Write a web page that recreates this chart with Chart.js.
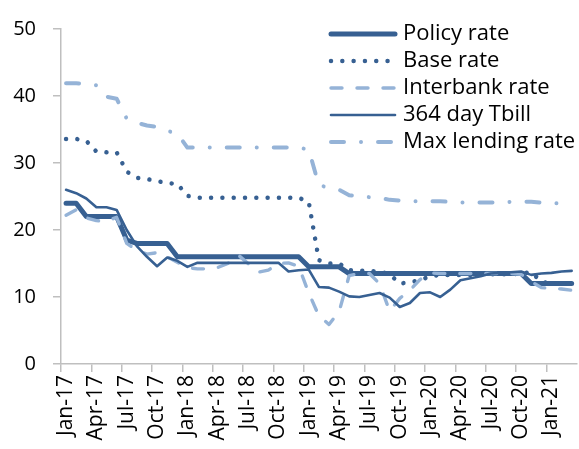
<!DOCTYPE html>
<html>
<head>
<meta charset="utf-8">
<title>Interest rates</title>
<script src="https://cdn.jsdelivr.net/npm/chart.js"></script>
<style>
  html, body { margin: 0; padding: 0; background: #fff; overflow: hidden; }
  #rates_plot_container { position: relative; width: 600px; height: 449px; }
</style>
</head>
<body>
<div id="rates_plot_container"><canvas id="rates_plot"></canvas></div>
<script>
// months Jan-17 .. Mar-21
const MONTHS = [
  'Jan-17', 'Feb-17', 'Mar-17', 'Apr-17', 'May-17', 'Jun-17', 'Jul-17', 'Aug-17', 'Sep-17', 'Oct-17', 'Nov-17', 'Dec-17',
  'Jan-18', 'Feb-18', 'Mar-18', 'Apr-18', 'May-18', 'Jun-18', 'Jul-18', 'Aug-18', 'Sep-18', 'Oct-18', 'Nov-18', 'Dec-18',
  'Jan-19', 'Feb-19', 'Mar-19', 'Apr-19', 'May-19', 'Jun-19', 'Jul-19', 'Aug-19', 'Sep-19', 'Oct-19', 'Nov-19', 'Dec-19',
  'Jan-20', 'Feb-20', 'Mar-20', 'Apr-20', 'May-20', 'Jun-20', 'Jul-20', 'Aug-20', 'Sep-20', 'Oct-20', 'Nov-20', 'Dec-20',
  'Jan-21', 'Feb-21', 'Mar-21'
];

const policyRate = [
  24, 24, 22, 22, 22, 22, 18.5, 18, 18, 18, 18, 16,
  16, 16, 16, 16, 16, 16, 16, 16, 16, 16, 16, 16,
  14.5, 14.5, 14.5, 14.5, 13.5, 13.5, 13.5, 13.5, 13.5, 13.5, 13.5, 13.5,
  13.5, 13.5, 13.5, 13.5, 13.5, 13.5, 13.5, 13.5, 13.5, 13.5, 12, 12,
  12, 12, 12
];

const baseRate = [
  33.6, 33.6, 33.3, 31.7, 31.6, 31.6, 28.7, 27.8, 27.6, 27.3, 27.0, 26.9,
  25.1, 24.8, 24.8, 24.8, 24.8, 24.8, 24.8, 24.8, 24.8, 24.8, 24.8, 24.8,
  24.2, 15.5, 15.0, 15.0, 14.0, 13.9, 13.9, 13.8, 13.4, 12.0, 12.2, 12.5,
  13.1, 13.3, 13.3, 13.3, 13.3, 13.4, 13.4, 13.4, 13.4, 13.5, 13.7, 12.3,
  12.0, 12.0, 12.0
];

const interbankRate = [
  22.2, 23.0, 21.8, 21.4, 21.3, 21.9, 18.0, 17.0, 16.4, 16.6, 16.0, 15.2,
  14.4, 14.2, 14.2, 14.4, 15.0, 16.3, 15.0, 13.7, 14.0, 15.0, 15.1, 14.6,
  10.6, 7.2, 5.9, 7.8, 13.2, 13.5, 13.5, 12.0, 7.9, 9.8, 11.0, 12.6,
  13.6, 13.5, 13.5, 13.5, 13.5, 13.5, 13.5, 13.5, 13.5, 13.4, 12.3, 11.4,
  11.3, 11.2, 11.0
];

const tbill364 = [
  26.0, 25.5, 24.7, 23.4, 23.4, 23.0, 20.0, 17.6, 16.0, 14.6, 15.9, 15.4,
  14.5, 15.1, 15.1, 15.1, 15.1, 15.1, 15.1, 15.1, 15.1, 15.1, 13.8, 14.0,
  14.1, 11.5, 11.4, 10.8, 10.1, 10.0, 10.3, 10.6, 9.9, 8.5, 9.1, 10.6,
  10.7, 10.0, 11.1, 12.5, 12.8, 13.1, 13.5, 13.6, 13.7, 13.8, 13.3, 13.5,
  13.6, 13.8, 13.9
];

const maxLendingRate = [
  41.9, 41.9, 41.8, 41.6, 39.9, 39.6, 36.6, 36.0, 35.6, 35.4, 34.8, 34.4,
  32.3, 32.3, 32.3, 32.3, 32.3, 32.3, 32.3, 32.3, 32.3, 32.3, 32.3, 32.3,
  32.0, 26.7, 26.3, 26.0, 25.2, 25.0, 24.9, 24.8, 24.5, 24.4, 24.3, 24.3,
  24.3, 24.3, 24.2, 24.1, 24.1, 24.1, 24.1, 24.1, 24.2, 24.2, 24.2, 24.1,
  24.0, 24.0, 24.0
];

const DARK_BLUE = '#376092';
const LIGHT_BLUE = '#95B3D7';
const AXIS_COLOR = '#BFBFBF';

Chart.defaults.font.family = '"Open Sans", "DejaVu Sans", sans-serif';
Chart.defaults.color = '#000';

// legend drawn inside the plot, top right
const insideLegend = {
  id: 'insideLegend',
  afterDatasetsDraw(chart) {
    const ctx = chart.ctx;
    ctx.save();
    chart.data.datasets.forEach((ds, i) => {
      const y = 34 + i * 27;
      ctx.beginPath();
      ctx.strokeStyle = ds.borderColor;
      ctx.lineWidth = ds.borderWidth;
      ctx.lineCap = 'round';
      ctx.setLineDash(ds.borderDash || []);
      ctx.moveTo(331, y);
      ctx.lineTo(395, y);
      ctx.stroke();
      ctx.setLineDash([]);
      ctx.fillStyle = '#000';
      ctx.font = '22px "Open Sans"';
      ctx.textBaseline = 'middle';
      ctx.textAlign = 'left';
      ctx.fillText(ds.label, 403, y);
    });
    ctx.restore();
  }
};

function line(label, data, color, width, dash, order) {
  return {
    label: label,
    data: data,
    borderColor: color,
    borderWidth: width,
    borderDash: dash,
    borderCapStyle: 'round',
    borderJoinStyle: 'round',
    pointRadius: 0,
    fill: false,
    tension: 0,
    order: order
  };
}

const ctx = document.getElementById('rates_plot');
window.rates_plot = new Chart(ctx, {
  type: 'line',
  data: {
    labels: MONTHS,
    datasets: [
      line('Policy rate', policyRate, DARK_BLUE, 5, [], 5),
      line('Base rate', baseRate, DARK_BLUE, 4.5, [0.01, 11.3], 4),
      line('Interbank rate', interbankRate, LIGHT_BLUE, 3.4, [11, 15], 3),
      line('364 day Tbill', tbill364, DARK_BLUE, 2.6, [], 2),
      line('Max lending rate', maxLendingRate, LIGHT_BLUE, 4, [13, 17, 0.01, 17], 1)
    ]
  },
  options: {
    responsive: true,
    maintainAspectRatio: false,
    animation: false,
    layout: { padding: { left: 0, right: 14, top: 22, bottom: 0 } },
    plugins: {
      legend: { display: false },
      tooltip: { enabled: false },
      title: { display: false }
    },
    scales: {
      x: {
        type: 'category',
        offset: true,
        grid: {
          offset: true,
          drawOnChartArea: false,
          drawTicks: true,
          tickLength: 8,
          lineWidth: 1.5,
          color: (c) => (c.index % 3 === 0 ? AXIS_COLOR : 'rgba(0,0,0,0)')
        },
        border: { color: AXIS_COLOR, width: 1.5 },
        ticks: {
          autoSkip: false,
          minRotation: 90,
          maxRotation: 90,
          padding: 3,
          color: '#000',
          font: { size: 21 },
          callback: function (value, index) {
            return index % 3 === 0 ? this.getLabelForValue(value) : '';
          }
        },
        afterFit: (scale) => { scale.height = 85; }
      },
      y: {
        min: 0,
        max: 50,
        ticks: { stepSize: 10, padding: 17, color: '#000', font: { size: 20 } },
        grid: { drawOnChartArea: false, tickLength: 8, lineWidth: 1.5, color: AXIS_COLOR },
        border: { color: AXIS_COLOR, width: 1.5 },
        afterFit: (scale) => { scale.width = 61; }
      }
    }
  },
  plugins: [insideLegend]
});
</script>
</body>
</html>
